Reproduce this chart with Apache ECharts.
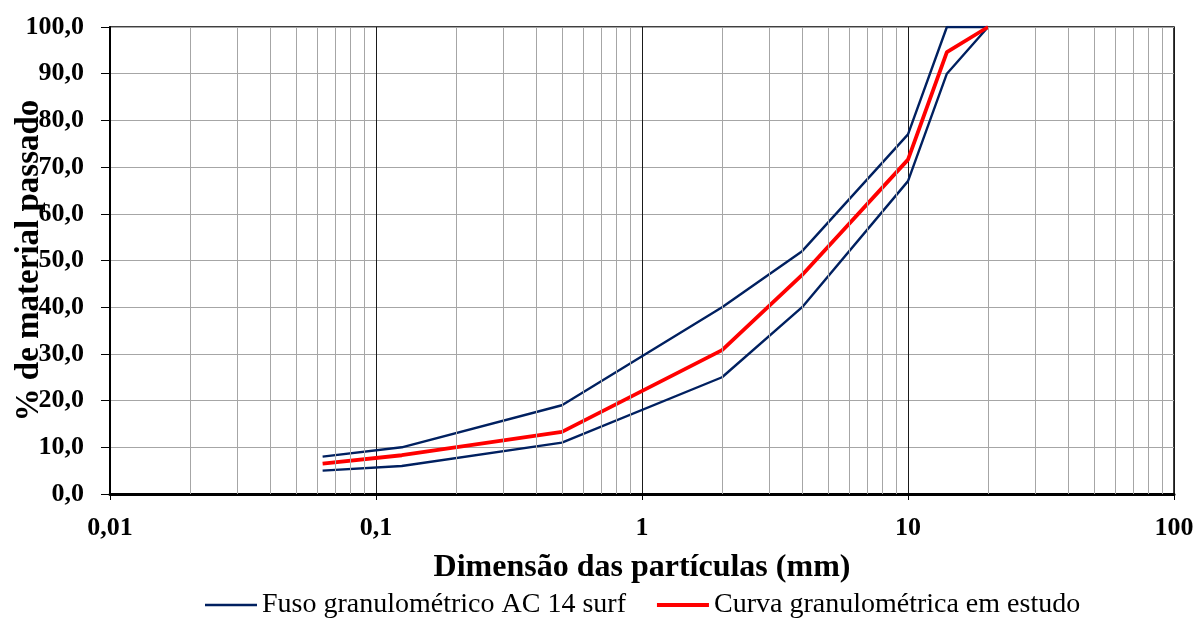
<!DOCTYPE html>
<html>
<head>
<meta charset="utf-8">
<script src="https://cdn.jsdelivr.net/npm/echarts@6/dist/echarts.min.js"></script>
<style>
  html, body { margin: 0; padding: 0; background: #fff; }
  #chart { width: 1195px; height: 619px; }
</style>
</head>
<body>
<div id="chart"></div>
<script>
// Sieve openings (mm)
var sieves = [0.063, 0.125, 0.5, 2, 4, 10, 14, 20];
// Specification envelope AC 14 surf (% passing)
var envelopeUpper = [8, 10, 19, 40, 52, 77, 100, 100];
var envelopeLower = [5, 6, 11, 25, 40, 67, 90, 100];
// Grading curve under study (% passing)
var studyCurve = [6.5, 8.3, 13.3, 30.8, 46.9, 71.6, 94.6, 100];

// Axis tick labels
var xTickValues = [0.01, 0.1, 1, 10, 100];
var xTickLabels = ['0,01', '0,1', '1', '10', '100'];
var yTickValues = [0, 10, 20, 30, 40, 50, 60, 70, 80, 90, 100];
var yTickLabels = ['0,0', '10,0', '20,0', '30,0', '40,0', '50,0', '60,0', '70,0', '80,0', '90,0', '100,0'];

// Intermediate log grid positions (2..9 in each decade)
var minorGrid = [];
[0.01, 0.1, 1, 10].forEach(function (d) {
  for (var k = 2; k <= 9; k++) minorGrid.push(+(d * k).toPrecision(3));
});

var NAME_ENV = 'Fuso granulométrico AC 14 surf';
var NAME_CUR = 'Curva granulométrica em estudo';
var FONT = '"Liberation Serif", "Times New Roman", serif';

function pairs(xs, ys) { return xs.map(function (x, i) { return [x, ys[i]]; }); }

var chart = echarts.init(document.getElementById('chart'), null, { renderer: 'canvas' });
chart.setOption({
  animation: false,
  backgroundColor: '#ffffff',
  textStyle: { fontFamily: FONT },
  grid: {
    left: 110, right: 21, top: 27, bottom: 125,
    containLabel: false,
    outerBoundsMode: 'none',
    show: true, borderColor: '#000', borderWidth: 1.5, backgroundColor: 'transparent'
  },
  legend: {
    data: [
      { name: NAME_ENV, icon: 'path://M0,0H50V2.4H0Z', itemStyle: { color: '#002060' } },
      { name: NAME_CUR, icon: 'path://M0,0H50V4H0Z', itemStyle: { color: '#ff0000' } }
    ],
    top: 591,
    left: 205,
    padding: 0,
    itemWidth: 52,
    itemHeight: 14,
    itemGap: 31,
    symbolKeepAspect: true,
    textStyle: { fontFamily: FONT, fontSize: 28, color: '#000' }
  },
  xAxis: {
    type: 'log',
    logBase: 10,
    min: 0.01,
    max: 100,
    name: 'Dimensão das partículas (mm)',
    nameLocation: 'middle',
    nameGap: 58,
    nameMoveOverlap: false,
    nameTextStyle: { fontFamily: FONT, fontSize: 32, fontWeight: 'bold', color: '#000' },
    axisLine: { show: true, onZero: false, lineStyle: { color: '#000', width: 3 } },
    axisTick: { show: true, length: 6, lineStyle: { color: '#000', width: 1 } },
    axisLabel: {
      margin: 21,
      fontFamily: FONT, fontSize: 26, fontWeight: 'bold', color: '#000',
      formatter: function (v) {
        for (var i = 0; i < xTickValues.length; i++) {
          if (Math.abs(Math.log10(v) - Math.log10(xTickValues[i])) < 1e-6) return xTickLabels[i];
        }
        return '';
      }
    },
    splitLine: { show: true, lineStyle: { color: '#1a1a1a', width: 1 } }
  },
  yAxis: {
    type: 'value',
    min: 0,
    max: 100,
    interval: 10,
    name: '% de material passado',
    nameLocation: 'middle',
    nameGap: 64,
    nameMoveOverlap: false,
    nameTextStyle: { fontFamily: FONT, fontSize: 33, fontWeight: 'bold', color: '#000' },
    axisLine: { show: true, lineStyle: { color: '#000', width: 2 } },
    axisTick: { show: true, length: 9, lineStyle: { color: '#000', width: 1 } },
    axisLabel: {
      margin: 26,
      fontFamily: FONT, fontSize: 26, fontWeight: 'bold', color: '#000',
      formatter: function (v) {
        var i = yTickValues.indexOf(Math.round(v));
        return i >= 0 ? yTickLabels[i] : '';
      }
    },
    splitLine: { show: true, lineStyle: { color: '#a6a6a6', width: 1 } }
  },
  series: [
    {
      name: 'grid',
      type: 'line',
      data: [],
      silent: true,
      z: 1,
      markLine: {
        silent: true,
        symbol: ['none', 'none'],
        label: { show: false },
        lineStyle: { color: '#a6a6a6', width: 1, type: 'solid' },
        data: minorGrid.map(function (v) { return { xAxis: v }; })
      }
    },
    {
      name: NAME_ENV,
      type: 'line',
      data: pairs(sieves, envelopeUpper),
      symbol: 'none',
      z: 3,
      lineStyle: { color: '#002060', width: 2.4 },
      itemStyle: { color: '#002060' }
    },
    {
      name: NAME_ENV,
      type: 'line',
      data: pairs(sieves, envelopeLower),
      symbol: 'none',
      z: 3,
      lineStyle: { color: '#002060', width: 2.4 },
      itemStyle: { color: '#002060' }
    },
    {
      name: NAME_CUR,
      type: 'line',
      data: pairs(sieves, studyCurve),
      symbol: 'none',
      z: 4,
      lineStyle: { color: '#ff0000', width: 3.8 },
      itemStyle: { color: '#ff0000' }
    }
  ]
});
</script>
</body>
</html>
